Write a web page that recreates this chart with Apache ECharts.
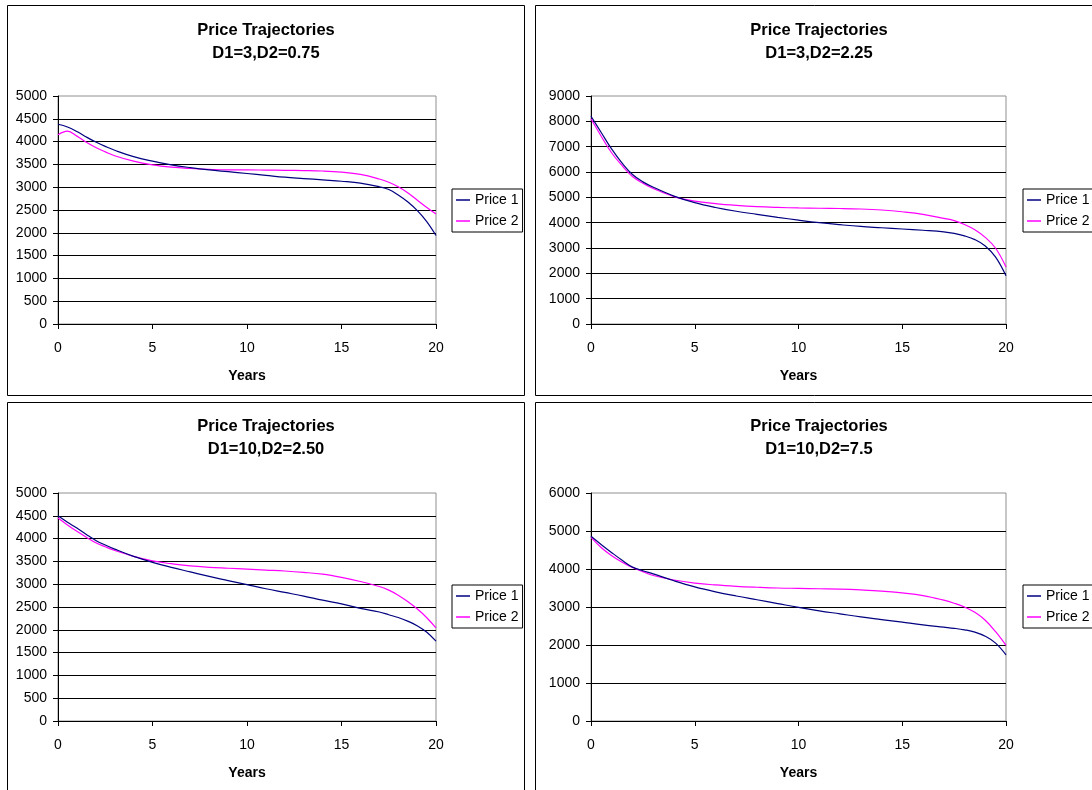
<!DOCTYPE html>
<html>
<head>
<meta charset="utf-8">
<script src="https://cdn.jsdelivr.net/npm/echarts@6/dist/echarts.min.js"></script>
<style>
html,body{margin:0;padding:0;background:#fff;}
#chart{width:1092px;height:790px;}
</style>
</head>
<body>
<div id="chart"></div>
<script>
// ---- data ----
const years = [0, 0.5, 1, 1.5, 2, 2.5, 3, 4, 5, 6, 7, 8, 9, 10, 11, 12, 13, 14, 15, 16, 17, 17.5, 18, 18.5, 19, 19.5, 20];

const titles = ["Price Trajectories\nD1=3,D2=0.75", "Price Trajectories\nD1=3,D2=2.25",
                "Price Trajectories\nD1=10,D2=2.50", "Price Trajectories\nD1=10,D2=7.5"];
const seriesNames = ["Price 1", "Price 2"];
const xTicks = [0, 5, 10, 15, 20];
const yMax = [5000, 9000, 5000, 6000];
const yStep = [500, 1000, 500, 1000];

// Panel 1: D1=3, D2=0.75
const p1Price1 = [4380, 4320, 4220, 4100, 3990, 3895, 3810, 3670, 3570, 3490, 3430, 3380, 3340, 3300, 3260, 3220, 3190, 3160, 3130, 3090, 3010, 2950, 2830, 2680, 2490, 2250, 1940];
const p1Price2 = [4150, 4230, 4120, 3985, 3870, 3775, 3690, 3570, 3490, 3440, 3410, 3390, 3380, 3380, 3375, 3370, 3365, 3355, 3330, 3280, 3180, 3110, 3010, 2880, 2720, 2560, 2410];
// Panel 2: D1=3, D2=2.25
const p2Price1 = [8200, 7550, 6900, 6350, 5900, 5610, 5400, 5050, 4790, 4600, 4450, 4330, 4210, 4100, 4000, 3920, 3850, 3800, 3750, 3700, 3640, 3580, 3480, 3330, 3080, 2640, 1900];
const p2Price2 = [8100, 7400, 6750, 6250, 5820, 5560, 5350, 5030, 4850, 4750, 4680, 4630, 4600, 4580, 4570, 4560, 4540, 4500, 4430, 4330, 4170, 4080, 3930, 3720, 3420, 2990, 2250];
// Panel 3: D1=10, D2=2.50
const p3Price1 = [4500, 4360, 4230, 4090, 3960, 3860, 3770, 3610, 3480, 3370, 3270, 3170, 3080, 2990, 2900, 2820, 2740, 2650, 2570, 2470, 2390, 2330, 2270, 2190, 2090, 1950, 1750];
const p3Price2 = [4450, 4300, 4160, 4030, 3910, 3820, 3740, 3610, 3510, 3450, 3400, 3370, 3350, 3330, 3310, 3290, 3260, 3220, 3150, 3060, 2950, 2870, 2760, 2620, 2460, 2270, 2040];
// Panel 4: D1=10, D2=7.5
const p4Price1 = [4860, 4640, 4430, 4230, 4050, 3955, 3870, 3690, 3530, 3400, 3290, 3190, 3090, 2990, 2900, 2820, 2740, 2670, 2600, 2530, 2470, 2440, 2400, 2340, 2230, 2050, 1740];
const p4Price2 = [4830, 4560, 4350, 4180, 4040, 3930, 3830, 3710, 3630, 3580, 3545, 3520, 3500, 3490, 3480, 3470, 3450, 3420, 3370, 3300, 3180, 3100, 3000, 2860, 2650, 2350, 1990];

const panelData = [[p1Price1, p1Price2], [p2Price1, p2Price2], [p3Price1, p3Price2], [p4Price1, p4Price2]];

// ---- layout ----
const FONT = "'Liberation Sans', Arial, sans-serif";
const grids = [
  {left: 58, top: 96, width: 378, height: 228},
  {left: 591, top: 96, width: 415, height: 228},
  {left: 58, top: 493, width: 378, height: 228},
  {left: 591, top: 493, width: 415, height: 228}
];
const boxes = [
  {x: 7.5, y: 5.5, w: 517, h: 390},
  {x: 535.5, y: 5.5, w: 570, h: 390},
  {x: 7.5, y: 402.5, w: 517, h: 392},
  {x: 535.5, y: 402.5, w: 570, h: 392}
];
const titleCenters = [266, 819, 266, 819];
const titleTops = [19, 19, 415, 415];
const legendLefts = [452, 1023, 452, 1023];
const legendTops = [189, 189, 585, 585];
const colors = ['#000080', '#FF00FF'];

const option = {
  animation: false,
  backgroundColor: '#fff',
  textStyle: {fontFamily: FONT},
  title: titles.map((t, i) => ({
    text: t,
    left: titleCenters[i],
    top: titleTops[i],
    textAlign: 'center',
    padding: 0,
    textStyle: {fontFamily: FONT, fontSize: 16.5, fontWeight: 'bold', color: '#000', lineHeight: 23}
  })),
  legend: grids.map((g, i) => ({
    data: seriesNames,
    orient: 'vertical',
    left: legendLefts[i],
    top: legendTops[i],
    padding: [4, 4, 4, 4],
    itemGap: 7,
    itemWidth: 14,
    itemHeight: 1.5,
    icon: 'rect',
    borderColor: '#000',
    borderWidth: 1,
    backgroundColor: '#fff',
    selectedMode: false,
    textStyle: {fontFamily: FONT, fontSize: 14, color: '#000', lineHeight: 14}
  })),
  grid: grids.map(g => Object.assign({show: true, borderColor: '#909090', borderWidth: 1, backgroundColor: '#fff'}, g)),
  xAxis: grids.map((g, i) => ({
    type: 'value', gridIndex: i, min: 0, max: 20, interval: 5,
    name: 'Years', nameLocation: 'middle', nameGap: 45,
    nameTextStyle: {fontFamily: FONT, fontSize: 14, fontWeight: 'bold', color: '#000'},
    axisLine: {show: true, onZero: false, lineStyle: {color: '#000', width: 1}},
    axisTick: {show: true, length: 5, lineStyle: {color: '#000'}},
    axisLabel: {fontFamily: FONT, fontSize: 14, color: '#000', margin: 17,
      formatter: v => xTicks.includes(v) ? String(v) : ''},
    splitLine: {show: false}
  })),
  yAxis: grids.map((g, i) => ({
    type: 'value', gridIndex: i, min: 0, max: yMax[i], interval: yStep[i],
    axisLine: {show: true, lineStyle: {color: '#000', width: 1}},
    axisTick: {show: true, length: 5, lineStyle: {color: '#000'}},
    axisLabel: {fontFamily: FONT, fontSize: 14, color: '#000', margin: 11,
      formatter: v => String(v)},
    splitLine: {show: true, showMaxLine: false, lineStyle: {color: '#000', width: 1}}
  })),
  series: [],
  graphic: boxes.map(b => ({
    type: 'rect', z: -10, silent: true,
    shape: {x: b.x, y: b.y, width: b.w, height: b.h},
    style: {fill: 'none', stroke: '#000', lineWidth: 1}
  }))
};

panelData.forEach((pair, i) => {
  pair.forEach((vals, k) => {
    option.series.push({
      name: seriesNames[k],
      type: 'line',
      xAxisIndex: i, yAxisIndex: i,
      data: years.map((x, j) => [x, vals[j]]),
      smooth: 0.4,
      symbol: 'none',
      color: colors[k],
      lineStyle: {color: colors[k], width: 1.2},
      z: 3 - k
    });
  });
});

const chart = echarts.init(document.getElementById('chart'), null, {renderer: 'canvas'});
chart.setOption(option);
</script>
</body>
</html>
